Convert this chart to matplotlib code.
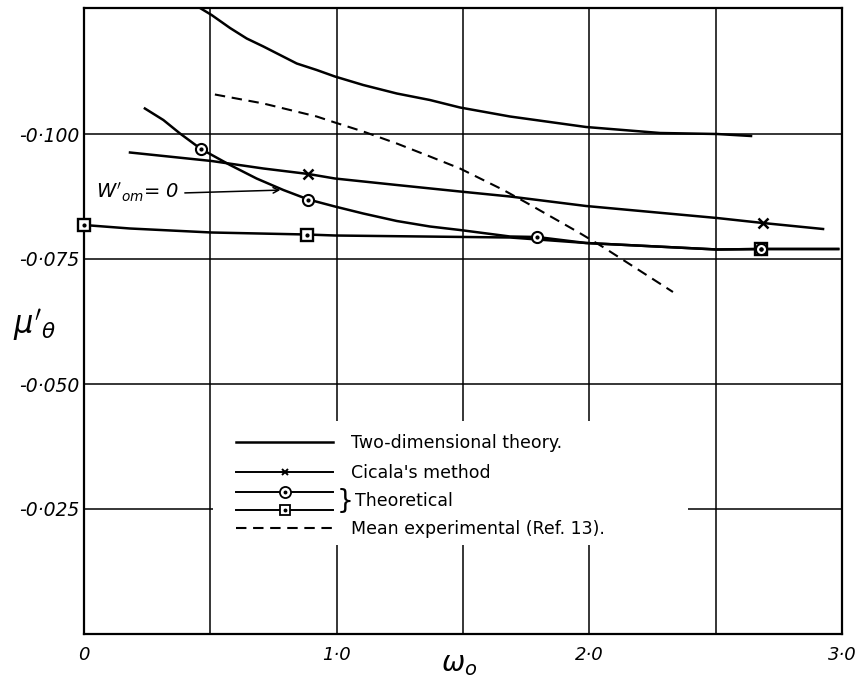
import numpy as np
import matplotlib
matplotlib.use("Agg")
import matplotlib.pyplot as plt
from matplotlib.lines import Line2D
from matplotlib.patches import Rectangle

plt.rcParams['font.family'] = ['DejaVu Sans']
plt.rcParams['mathtext.fontset'] = 'dejavusans'

# two-dimensional theory
two_d_x = [0.446, 0.505, 0.578, 0.644, 0.710, 0.776, 0.842, 0.921, 0.993, 1.105,
           1.238, 1.369, 1.488, 1.686, 1.987, 2.28, 2.505, 2.64]
two_d_y = [-0.1256, -0.1238, -0.1212, -0.1191, -0.1175, -0.1158, -0.1141, -0.1128,
           -0.1115, -0.1098, -0.1081, -0.1068, -0.1053, -0.1035, -0.1014, -0.1002,
           -0.1000, -0.0996]

# mean experimental (Ref. 13)
exp_x = [0.518, 0.710, 0.921, 0.993, 1.105, 1.238, 1.369, 1.488, 1.660, 1.753,
         1.955, 2.054, 2.331]
exp_y = [-0.1079, -0.1061, -0.1035, -0.1023, -0.1005, -0.0981, -0.0955, -0.0931,
         -0.0888, -0.0862, -0.0804, -0.0774, -0.0684]

# Cicala's method
cic_x = [0.182, 0.505, 0.710, 0.888, 0.993, 1.238, 1.488, 1.686, 1.987, 2.505, 2.687, 2.925]
cic_y = [-0.0963, -0.0946, -0.0931, -0.092, -0.0911, -0.0898, -0.0885, -0.0875,
         -0.0856, -0.0832, -0.0822, -0.081]
cic_mark_x = [0.888, 2.687]
cic_mark_y = [-0.092, -0.0822]

# theoretical, W'om = 0 (circles)
circ_x = [0.241, 0.314, 0.380, 0.463, 0.578, 0.683, 0.789, 0.888, 0.993, 1.105,
          1.238, 1.369, 1.488, 1.686, 1.793, 1.987, 2.505, 2.68, 2.985]
circ_y = [-0.1051, -0.1028, -0.1001, -0.097, -0.0938, -0.0911, -0.0888, -0.0869,
          -0.0855, -0.0841, -0.0826, -0.0815, -0.0808, -0.0795, -0.0794, -0.0782,
          -0.0769, -0.0770, -0.0770]
circ_mark_x = [0.463, 0.888, 1.793, 2.68]
circ_mark_y = [-0.097, -0.0869, -0.0794, -0.077]

# theoretical (squares)
sq_x = [0.0, 0.182, 0.505, 0.881, 0.993, 1.686, 1.987, 2.505, 2.68, 2.985]
sq_y = [-0.0818, -0.0811, -0.0803, -0.0799, -0.0797, -0.0793, -0.0782, -0.0769,
        -0.077, -0.077]
sq_mark_x = [0.0, 0.881, 2.68]
sq_mark_y = [-0.0818, -0.0799, -0.077]

xticks = [0, 0.5, 1.0, 1.5, 2.0, 2.5, 3.0]
xticklabels = ['0', '', '1·0', '', '2·0', '', '3·0']
yticks = [-0.100, -0.075, -0.050, -0.025]
yticklabels = ['-0·100', '-0·075', '-0·050', '-0·025']

fig = plt.figure(figsize=(8.58, 6.78), dpi=100)
ax = fig.add_axes([84/858, 1-634/678, 758/858, 626/678])

ax.set_xlim(0, 3.0)
ax.set_ylim(0, -0.1252)
ax.set_xticks(xticks)
ax.set_xticklabels(xticklabels, fontsize=13, style='italic')
ax.set_yticks(yticks)
ax.set_yticklabels(yticklabels, fontsize=13.5, style='italic')
ax.tick_params(length=0)
ax.tick_params(axis='y', pad=3)
ax.tick_params(axis='x', pad=9)
ax.set_axisbelow(True)
ax.grid(True, color='black', lw=1.1)
for s in ax.spines.values():
    s.set_linewidth(1.6)

# blank area behind the key
ax.add_patch(Rectangle((0.51, -0.0426), 1.88, 0.0248, facecolor='white',
                       edgecolor='none', zorder=1))

lw = 1.8
dash = (5.0, 3.2)
ax.plot(two_d_x, two_d_y, color='black', lw=lw, zorder=3)
ax.plot(exp_x, exp_y, color='black', lw=1.5, dashes=dash, zorder=3)
ax.plot(cic_x, cic_y, color='black', lw=lw, zorder=3)
ax.plot(cic_mark_x, cic_mark_y, ls='none', marker='x', ms=7, mew=1.8,
        color='black', zorder=4)
ax.plot(circ_x, circ_y, color='black', lw=lw, zorder=3)
ax.plot(sq_x, sq_y, color='black', lw=lw, zorder=3)
ax.plot(sq_mark_x, sq_mark_y, ls='none', marker='s', ms=8, mfc='white',
        mec='black', mew=1.7, zorder=4, clip_on=False)
ax.plot(circ_mark_x, circ_mark_y, ls='none', marker='o', ms=8, mfc='white',
        mec='black', mew=1.5, zorder=5)
ax.plot(circ_mark_x + sq_mark_x, circ_mark_y + sq_mark_y, ls='none',
        marker='o', ms=2, color='black', zorder=6, clip_on=False)

# key, in two parts to follow the uneven row spacing
h_two = Line2D([], [], color='black', lw=lw)
h_cic = Line2D([], [], color='black', lw=1.4, marker='x', ms=5, mew=1.4)
h_circ = (Line2D([], [], color='black', lw=1.4, marker='o', ms=8, mfc='white', mec='black', mew=1.3),
          Line2D([], [], ls='none', marker='o', ms=1.8, color='black'))
h_sq = (Line2D([], [], color='black', lw=1.4, marker='s', ms=6.5, mfc='white', mec='black', mew=1.3),
        Line2D([], [], ls='none', marker='o', ms=1.8, color='black'))
h_exp = Line2D([], [], color='black', lw=1.5, dashes=dash)
key_opts = dict(loc='upper left', borderaxespad=0, borderpad=0, frameon=False,
                fontsize=12.5, handlelength=5.6, handletextpad=1.0, numpoints=1)
leg1 = ax.legend([h_two, h_cic], ['Two-dimensional theory.', "Cicala's method"],
                 bbox_to_anchor=(0.2005, 0.319), labelspacing=0.7, **key_opts)
ax.add_artist(leg1)
ax.legend([h_circ, h_sq, h_exp], [' ', ' ', 'Mean experimental (Ref. 13).'],
          bbox_to_anchor=(0.2005, 0.2396), labelspacing=0.0, **key_opts)

ax.text(1.0, -0.0266, '}', fontsize=19, ha='left', va='center')
ax.text(1.073, -0.0266, 'Theoretical', fontsize=12.5, ha='left', va='center')

# W'om = 0 label and arrow
ax.annotate('', xy=(0.788, -0.0888), xytext=(0.388, -0.0882),
            arrowprops=dict(arrowstyle='->', color='black', lw=1.1))
ax.text(0.375, -0.0884, r"$W'_{om}$= 0", fontsize=14,
        ha='right', va='center', style='italic')

ax.set_xlabel(r'$\omega_o$', fontsize=20)
ax.xaxis.set_label_coords(0.495, -0.025)
ax.set_ylabel(r"$\mu'_\theta$", fontsize=22, rotation=0, ha='center', va='center')
ax.yaxis.set_label_coords(-0.065, 0.494)

fig.savefig('out.png', dpi=100)
